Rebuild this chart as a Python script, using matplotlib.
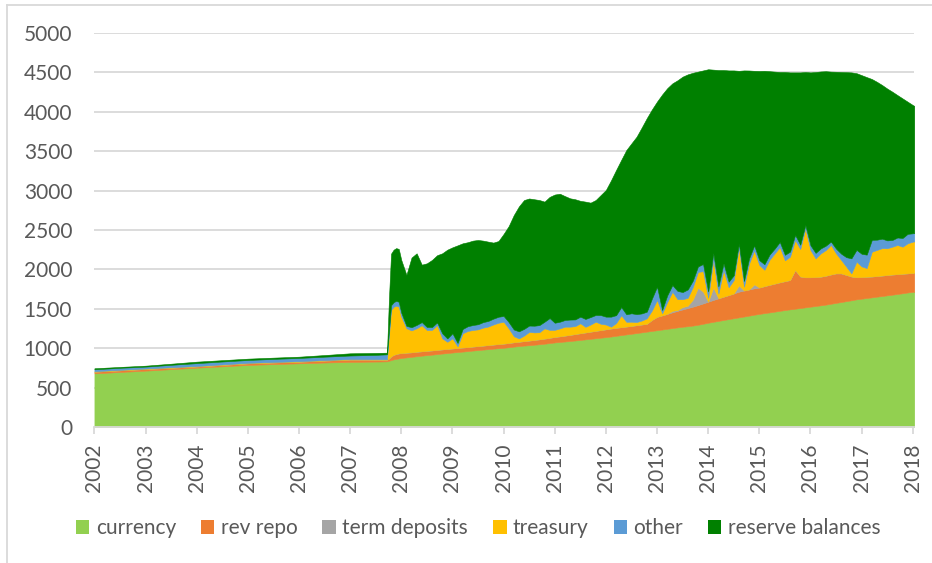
import numpy as np
import matplotlib
matplotlib.use("Agg")
import matplotlib.pyplot as plt
from matplotlib.lines import Line2D
from matplotlib.patches import Patch

# time axis (axis units = years as labelled on the chart)
t_early = [2002.0, 2002.5, 2003.0, 2003.5, 2004.0, 2004.5, 2005.0, 2005.5,
           2006.0, 2006.5, 2007.0, 2007.5, 2007.72, 2007.76, 2007.8, 2007.85,
           2007.9, 2007.95]
t_late = list(np.round(np.arange(2008.0, 2018.001, 0.1), 2)) + [2018.03]
t = np.array(t_early + t_late)

currency = [681, 698, 715, 734, 753, 770, 787, 798, 808, 818, 826, 830, 833,
            840, 850, 858, 864, 870,
            875, 883, 890, 898, 905, 912, 918, 925, 932, 938,
            945, 951, 957, 963, 970, 976, 982, 988, 994, 1000,
            1005, 1012, 1020, 1027, 1033, 1038, 1044, 1050, 1057, 1065,
            1073, 1079, 1085, 1091, 1098, 1105, 1112, 1119, 1126, 1133,
            1140, 1148, 1157, 1166, 1175, 1183, 1192, 1201, 1210, 1219,
            1228, 1237, 1246, 1255, 1264, 1272, 1279, 1287, 1297, 1310,
            1323, 1335, 1346, 1358, 1369, 1380, 1391, 1402, 1413, 1425,
            1435, 1445, 1454, 1464, 1474, 1484, 1493, 1501, 1510, 1518,
            1527, 1535, 1544, 1553, 1564, 1575, 1586, 1597, 1608, 1620,
            1628, 1637, 1645, 1654, 1662, 1671, 1679, 1688, 1697, 1707,
            1715, 1717]

rev_repo = [21, 21, 21, 18, 15, 18, 21, 21, 21, 25, 30, 25, 21,
            30, 45, 58, 62, 64,
            63, 60, 58, 57, 56, 55, 54, 54, 53, 53,
            52, 52, 52, 51, 51, 51, 51, 52, 52, 53,
            53, 54, 55, 55, 57, 59, 61, 63, 65, 67,
            70, 72, 75, 78, 82, 85, 88, 91, 94, 97,
            100, 102, 102, 101, 100, 100, 100, 100, 100, 140,
            170, 180, 190, 200, 210, 220, 230, 240, 250, 258,
            267, 277, 287, 296, 305, 315, 326, 330, 333, 335,
            335, 343, 350, 356, 362, 367, 372, 491, 400, 382,
            373, 368, 364, 367, 372, 375, 364, 333, 302, 280,
            275, 270, 265, 262, 260, 258, 256, 252, 248, 243,
            240, 238]

term_deposits = [0] * 13 + [0] * 5 + \
    [0] * 50 + \
    [0, 0, 0, 20, 10, 30, 30, 90, 220, 150,
     0, 160, 0, 0, 0, 0, 80, 0, 0, 50,
     0, 0, 0, 0, 0, 0, 0, 0, 0, 0,
     0, 0, 0, 0, 0, 0, 0, 0, 0, 0,
     0, 0, 0, 0, 0, 0, 0, 0, 0, 0,
     0, 0]

treasury = [5] * 13 + \
    [300, 590, 610, 613, 592,
     462, 310, 278, 298, 330, 264, 260, 314, 140, 90,
     128, 20, 180, 205, 210, 212, 228, 235, 255, 270,
     278, 185, 77, 42, 70, 110, 95, 90, 130, 100,
     90, 100, 113, 104, 100, 126, 71, 90, 116, 80,
     60, 23, 60, 150, 60, 53, 40, 50, 69, 120,
     214, 26, 150, 241, 138, 100, 100, 160, 200, 260,
     50, 350, 60, 338, 100, 170, 480, 50, 330, 430,
     286, 207, 319, 383, 448, 264, 296, 381, 348, 621,
     346, 236, 295, 326, 375, 253, 169, 105, 40, 198,
     135, 110, 315, 331, 348, 339, 353, 370, 343, 381,
     397, 400]

other = [25, 27, 25, 32, 37, 38, 37, 40, 42, 44, 46, 55, 63,
         60, 60, 58, 62, 63,
         50, 30, 40, 42, 40, 38, 36, 34, 64, 42,
         64, 43, 55, 60, 63, 65, 70, 71, 74, 76,
         73, 80, 85, 90, 85, 80, 85, 90, 84, 150,
         90, 85, 85, 90, 85, 84, 100, 95, 85, 110,
         100, 127, 100, 105, 95, 107, 100, 90, 84, 150,
         169, 42, 85, 85, 105, 90, 106, 80, 70, 90,
         80, 85, 90, 85, 70, 60, 50, 70, 64, 64,
         60, 70, 65, 60, 64, 70, 64, 64, 55, 42,
         60, 70, 63, 55, 42, 60, 80, 120, 190, 150,
         160, 170, 150, 130, 120, 100, 85, 95, 110, 120,
         106, 106]

# top edge of the stack (total liabilities)
total = [745, 762, 778, 803, 829, 848, 867, 880, 892, 913, 935, 940, 943,
         1650, 2200, 2250, 2270, 2260,
         2119, 1930, 2150, 2204, 2060, 2077, 2120, 2180, 2204, 2250,
         2280, 2305, 2331, 2345, 2365, 2373, 2365, 2352, 2340, 2360,
         2450, 2550, 2690, 2800, 2880, 2900, 2890, 2880, 2860, 2920,
         2950, 2960, 2930, 2902, 2890, 2870, 2860, 2847, 2880, 2944,
         3008, 3130, 3262, 3390, 3515, 3600, 3684, 3800, 3920, 4030,
         4130, 4220, 4300, 4361, 4400, 4446, 4475, 4495, 4510, 4525,
         4540, 4535, 4530, 4530, 4525, 4525, 4520, 4525, 4524, 4520,
         4518, 4520, 4515, 4510, 4505, 4505, 4500, 4500, 4500, 4505,
         4500, 4505, 4512, 4515, 4510, 4508, 4505, 4503, 4500, 4490,
         4465, 4440, 4416, 4380, 4340, 4295, 4255, 4212, 4170, 4128,
         4086, 4075]

labels = ["currency", "rev repo", "term deposits", "treasury", "other",
          "reserve balances"]
colors = ["#92D050", "#ED7D31", "#A5A5A5", "#FFC000", "#5B9BD5", "#008000"]

years = list(range(2002, 2019))

currency = np.array(currency, float)
rev_repo = np.array(rev_repo, float)
term_deposits = np.array(term_deposits, float)
treasury = np.array(treasury, float)
other = np.array(other, float)
reserves = np.array(total, float) - (currency + rev_repo + term_deposits
                                     + treasury + other)

plt.rcParams['font.family'] = ['Lato', 'DejaVu Sans']

fig = plt.figure(figsize=(9.32, 5.63), dpi=100)
ax = fig.add_axes([0.1013, 0.2416, 0.8797, 0.6998])

polys = ax.stackplot(t, currency, rev_repo, term_deposits, treasury, other,
                     reserves, colors=colors, labels=labels)
for p, c in zip(polys, colors):
    p.set_edgecolor(c)
    p.set_linewidth(0.4)

ax.set_xlim(2002, 2018.03)
ax.set_ylim(0, 5000)
ax.set_yticks(range(0, 5001, 500))
ax.set_xticks(years)
ax.set_xticklabels([str(y) for y in years], rotation=90)

ax.grid(axis='y', color='#d9d9d9', linewidth=1.3)
ax.set_axisbelow(True)
for s in ['top', 'right', 'left']:
    ax.spines[s].set_visible(False)
ax.spines['bottom'].set_color('#d9d9d9')
ax.spines['bottom'].set_linewidth(1.3)
ax.spines['bottom'].set_zorder(5)

ax.tick_params(axis='y', length=0, pad=16, labelsize=15, labelcolor='#595959')
ax.tick_params(axis='x', length=5, width=1.3, color='#d9d9d9', pad=7,
               labelsize=15, labelcolor='#595959')

handles = [Patch(facecolor=c, edgecolor='none') for c in colors]
fig.legend(handles, labels, loc='center', bbox_to_anchor=(0.513, 0.062),
           ncol=6, frameon=False, fontsize=15, handlelength=0.65,
           handleheight=0.65, handletextpad=0.3, columnspacing=1.2,
           labelcolor='#595959')

# chart area border (left and top visible)
fig.add_artist(Line2D([7 / 932, 7 / 932], [0, 1 - 5 / 563],
                      transform=fig.transFigure, color='#d9d9d9', lw=1.3))
fig.add_artist(Line2D([7 / 932, 1], [1 - 5 / 563, 1 - 5 / 563],
                      transform=fig.transFigure, color='#d9d9d9', lw=1.3))

fig.savefig("out.png", dpi=100)
